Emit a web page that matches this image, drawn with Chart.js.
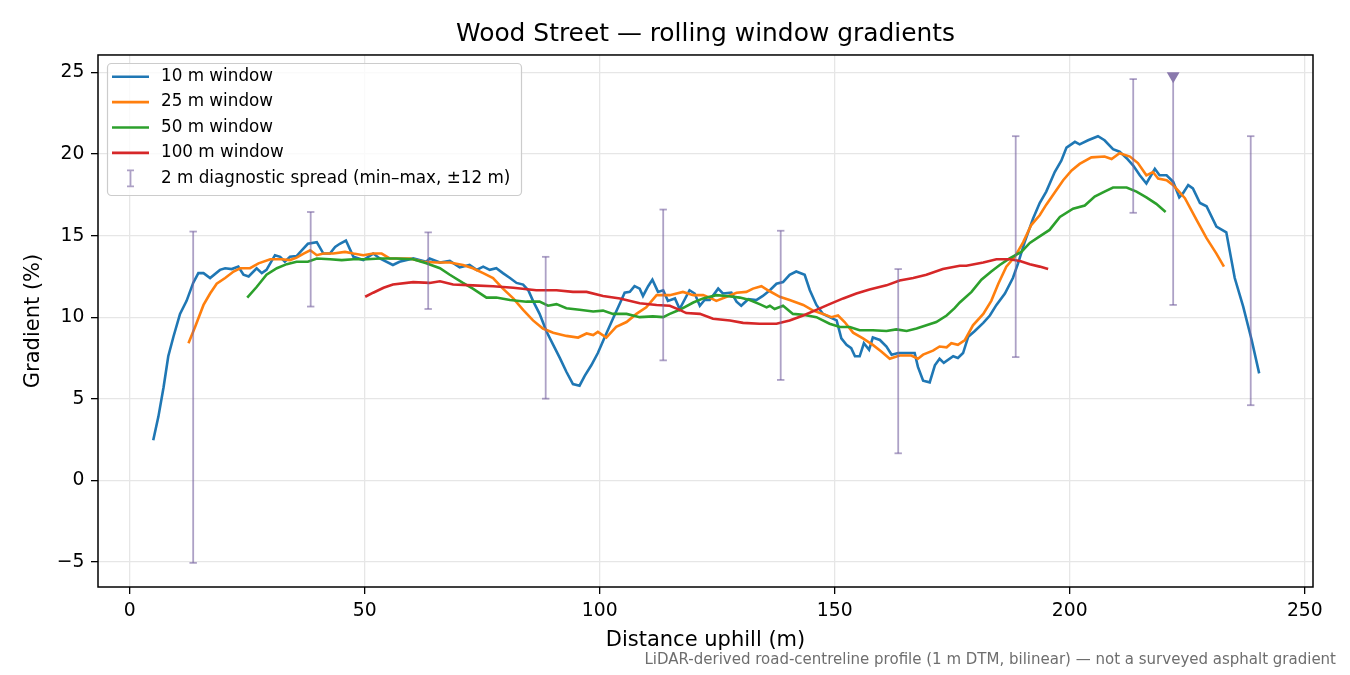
<!DOCTYPE html>
<html>
<head>
<meta charset="utf-8">
<title>Wood Street — rolling window gradients</title>
<script src="https://cdn.jsdelivr.net/npm/chart.js@4.4.1/dist/chart.umd.min.js"></script>
<style>
  html, body { margin: 0; padding: 0; background: #fff; }
  #wrap { width: 1350px; height: 675px; }
</style>
</head>
<body>
<div id="wrap"><canvas id="chart-gradients" width="1350" height="675"></canvas></div>
<script>
// values (distance m, gradient %)

const win10X = [5.0, 6.1, 7.2, 8.2, 9.3, 10.7, 12.1, 13.5, 14.6, 15.7, 17.1, 19.2, 20.3, 21.7, 23.1, 24.2, 25.3, 27.0, 28.1, 29.1,
  30.9, 32.0, 33.0, 34.1, 35.5, 36.6, 37.9, 39.8, 41.2, 42.6, 43.7, 44.7, 46.0, 47.6, 49.7, 51.8, 53.2, 56.0, 57.4, 60.3,
  63.1, 63.8, 66.0, 68.1, 70.2, 72.3, 73.8, 75.2, 76.6, 78.0, 79.4, 80.9, 82.3, 83.7, 84.8, 85.8, 87.2, 88.7, 90.1, 91.5,
  92.9, 94.3, 95.7, 96.8, 98.2, 99.6, 101.1, 102.8, 104.3, 105.3, 106.4, 107.4, 108.5, 109.2, 110.3, 111.2, 112.4, 113.5, 114.5, 116.0,
  117.0, 119.1, 120.2, 121.3, 122.3, 123.4, 125.2, 126.2, 128.0, 129.1, 130.1, 131.6, 133.3, 134.7, 136.2, 137.6, 139.0, 140.4, 141.8, 143.6,
  144.7, 146.1, 147.5, 148.9, 150.4, 151.4, 152.5, 153.5, 154.3, 155.3, 156.2, 157.3, 158.1, 159.6, 161.0, 162.1, 163.5, 165.3, 167.0, 167.7,
  168.8, 170.2, 171.3, 172.3, 173.2, 175.2, 176.2, 177.3, 178.4, 179.8, 181.6, 183.0, 184.4, 186.2, 187.9, 189.0, 190.4, 192.2, 193.6, 195.0,
  196.8, 198.2, 199.3, 201.1, 202.1, 203.9, 206.0, 207.4, 209.2, 210.6, 212.1, 213.5, 214.9, 216.3, 218.1, 219.1, 220.6, 222.0, 223.3, 224.1,
  225.2, 226.2, 227.7, 229.1, 231.2, 233.3, 235.1, 236.9, 238.7, 240.3];
const win10Y = [2.45, 3.9, 5.7, 7.6, 8.8, 10.2, 11.0, 12.1, 12.7, 12.7, 12.4, 12.9, 13.0, 12.95, 13.1, 12.6, 12.5, 13.0, 12.7, 12.9,
  13.8, 13.7, 13.4, 13.7, 13.75, 14.1, 14.5, 14.6, 13.9, 13.9, 14.3, 14.5, 14.7, 13.7, 13.5, 13.9, 13.6, 13.2, 13.4, 13.6,
  13.4, 13.6, 13.35, 13.45, 13.05, 13.2, 12.9, 13.1, 12.9, 13.0, 12.7, 12.4, 12.1, 12.0, 11.65, 11.0, 10.2, 9.1, 8.3, 7.5,
  6.65, 5.9, 5.8, 6.4, 7.05, 7.8, 8.8, 9.9, 10.85, 11.5, 11.55, 11.9, 11.75, 11.3, 11.9, 12.3, 11.55, 11.65, 11.0, 11.15,
  10.5, 11.65, 11.45, 10.7, 11.05, 11.05, 11.75, 11.45, 11.5, 10.95, 10.7, 11.1, 11.05, 11.3, 11.65, 12.05, 12.15, 12.6, 12.8, 12.6,
  11.65, 10.75, 10.2, 10.0, 9.8, 8.7, 8.3, 8.1, 7.6, 7.6, 8.4, 8.0, 8.75, 8.6, 8.2, 7.7, 7.8, 7.8, 7.8, 6.95,
  6.1, 6.0, 7.05, 7.45, 7.2, 7.6, 7.5, 7.8, 8.8, 9.15, 9.65, 10.1, 10.75, 11.45, 12.4, 13.3, 14.6, 16.05, 17.0, 17.7,
  18.9, 19.6, 20.4, 20.75, 20.6, 20.85, 21.1, 20.85, 20.3, 20.15, 19.75, 19.3, 18.7, 18.2, 19.1, 18.7, 18.7, 18.3, 17.35, 17.6,
  18.1, 17.9, 17.0, 16.8, 15.55, 15.2, 12.4, 10.65, 8.6, 6.55];

const win25X = [12.5, 13.9, 15.7, 17.1, 18.5, 20.3, 22.1, 23.5, 25.6, 27.4, 29.9, 32.3, 34.1, 35.5, 37.0, 38.4, 39.8, 41.2, 43.3, 45.8,
  47.6, 49.7, 51.8, 53.6, 55.3, 59.6, 62.4, 65.3, 68.1, 70.9, 73.0, 75.2, 77.3, 79.4, 81.6, 83.7, 85.8, 87.9, 90.1, 92.9,
  95.4, 97.2, 98.6, 99.6, 101.4, 103.5, 105.7, 107.8, 109.9, 112.1, 114.9, 117.7, 119.9, 122.0, 123.4, 124.8, 127.0, 129.1, 131.2, 132.6,
  134.4, 135.8, 138.3, 140.4, 143.3, 145.4, 147.5, 149.3, 150.7, 152.1, 153.9, 156.0, 158.1, 159.9, 161.7, 163.8, 166.3, 167.7, 168.8, 170.9,
  172.3, 173.8, 174.8, 176.2, 177.7, 179.4, 181.6, 183.3, 184.8, 186.5, 188.3, 190.1, 191.8, 193.6, 195.0, 196.8, 198.6, 200.4, 202.1, 204.6,
  207.4, 208.9, 210.6, 212.8, 214.5, 216.3, 217.7, 218.8, 220.6, 222.0, 224.5, 227.0, 229.1, 231.2, 232.8];
const win25Y = [8.4, 9.4, 10.75, 11.45, 12.05, 12.4, 12.8, 13.0, 13.0, 13.3, 13.55, 13.55, 13.5, 13.65, 13.9, 14.1, 13.8, 13.9, 13.9, 14.0,
  13.9, 13.8, 13.9, 13.9, 13.6, 13.6, 13.4, 13.35, 13.35, 13.2, 13.0, 12.7, 12.4, 11.75, 11.15, 10.45, 9.8, 9.3, 9.05, 8.85,
  8.75, 9.0, 8.9, 9.1, 8.75, 9.4, 9.7, 10.2, 10.6, 11.35, 11.35, 11.55, 11.35, 11.35, 11.2, 11.0, 11.25, 11.5, 11.55, 11.75,
  11.9, 11.65, 11.25, 11.05, 10.75, 10.4, 10.2, 10.0, 10.1, 9.7, 9.05, 8.7, 8.3, 7.9, 7.45, 7.65, 7.65, 7.45, 7.7, 7.95,
  8.2, 8.15, 8.4, 8.3, 8.6, 9.5, 10.2, 11.0, 12.05, 13.1, 13.7, 14.6, 15.65, 16.25, 16.9, 17.65, 18.4, 19.0, 19.4, 19.8,
  19.85, 19.7, 20.05, 19.85, 19.45, 18.7, 18.9, 18.5, 18.4, 18.1, 17.3, 15.95, 14.85, 13.9, 13.1];

const win50X = [25.0, 27.0, 29.1, 31.3, 33.4, 35.5, 37.9, 39.8, 42.6, 45.1, 47.6, 50.4, 53.3, 56.7, 60.3, 63.1, 66.0, 68.1, 70.9, 73.0,
  75.9, 78.0, 80.9, 84.4, 87.2, 89.0, 90.8, 92.9, 95.7, 98.6, 100.7, 102.8, 105.7, 108.5, 111.3, 113.5, 114.9, 117.0, 119.9, 122.0,
  124.8, 127.0, 129.8, 131.9, 134.0, 135.5, 136.2, 137.2, 139.0, 141.1, 143.3, 146.1, 148.9, 151.1, 153.2, 155.3, 158.1, 161.0, 163.1, 165.3,
  167.4, 169.5, 171.6, 173.8, 175.5, 176.6, 179.1, 181.2, 183.3, 185.1, 187.2, 189.7, 191.5, 193.6, 195.7, 197.9, 200.7, 203.2, 205.3, 207.4,
  209.2, 212.1, 214.2, 216.3, 218.4, 220.4];
const win50Y = [11.2, 11.85, 12.6, 13.0, 13.25, 13.4, 13.4, 13.6, 13.55, 13.5, 13.55, 13.55, 13.6, 13.6, 13.55, 13.3, 13.0, 12.6, 12.1, 11.75,
  11.2, 11.2, 11.05, 10.95, 10.95, 10.7, 10.8, 10.55, 10.45, 10.35, 10.4, 10.2, 10.2, 10.0, 10.05, 10.0, 10.2, 10.45, 10.9, 11.15,
  11.35, 11.3, 11.2, 11.05, 10.8, 10.6, 10.7, 10.5, 10.7, 10.2, 10.15, 10.0, 9.6, 9.4, 9.4, 9.2, 9.2, 9.15, 9.25, 9.15,
  9.3, 9.5, 9.7, 10.1, 10.55, 10.9, 11.55, 12.3, 12.8, 13.2, 13.6, 14.0, 14.55, 14.95, 15.35, 16.15, 16.65, 16.85, 17.4, 17.7,
  17.95, 17.95, 17.7, 17.35, 16.95, 16.45];

const win100X = [50.1, 51.8, 54.0, 56.0, 60.3, 63.8, 66.0, 68.8, 73.0, 77.3, 81.6, 86.5, 90.8, 94.3, 97.2, 100.7, 104.3, 108.5, 112.1, 114.9,
  117.0, 118.4, 121.3, 124.1, 127.7, 130.5, 134.0, 137.6, 140.4, 143.3, 146.1, 148.9, 151.8, 154.6, 157.4, 161.0, 163.8, 166.7, 169.5, 173.0,
  176.6, 178.0, 181.6, 184.4, 187.2, 189.4, 191.5, 193.6, 195.4];
const win100Y = [11.25, 11.5, 11.8, 12.0, 12.15, 12.1, 12.2, 12.0, 11.95, 11.9, 11.8, 11.65, 11.65, 11.55, 11.55, 11.3, 11.15, 10.85, 10.75, 10.7,
  10.45, 10.25, 10.2, 9.9, 9.8, 9.65, 9.6, 9.6, 9.8, 10.1, 10.45, 10.8, 11.15, 11.45, 11.7, 11.95, 12.25, 12.4, 12.6, 12.95,
  13.15, 13.15, 13.35, 13.55, 13.55, 13.45, 13.25, 13.1, 12.95];

// 2 m diagnostic spread, min-max within +-12 m
const spreadX = [13.5, 38.5, 63.5, 88.5, 113.5, 138.5, 163.5, 188.5, 213.5, 222.0, 238.5];
const spreadLo = [-5.07, 10.65, 10.5, 5.0, 7.35, 6.15, 1.65, 7.55, 16.4, 10.75, 4.6];
const spreadHi = [15.25, 16.45, 15.2, 13.7, 16.6, 15.3, 12.95, 21.1, 24.6, 24.8, 21.1];

// spread max beyond the axis top
const offscaleX = [222.0];
const offscaleY = [24.8];

const ticksX = [0, 50, 100, 150, 200, 250];
const ticksY = [-5, 0, 5, 10, 15, 20, 25];

const FUENTE = "'DejaVu Sans', 'Liberation Sans', sans-serif";
const COLOR_SPREAD = 'rgba(118, 98, 160, 0.6)';

function puntos(xs, ys) {
  return xs.map((x, i) => ({ x, y: ys[i] }));
}

function puntosSpread() {
  const out = [];
  spreadX.forEach((x, i) => {
    out.push({ x, y: spreadLo[i], cap: true });
    out.push({ x, y: spreadHi[i], cap: !offscaleX.includes(x) });
    out.push({ x, y: null });
  });
  return out;
}

function lineaVentana(label, xs, ys, color, order) {
  return {
    label,
    data: puntos(xs, ys),
    showLine: true,
    borderColor: color,
    backgroundColor: color,
    borderWidth: 2.6,
    pointRadius: 0,
    tension: 0,
    order
  };
}

const datasets = [
  lineaVentana('10 m window', win10X, win10Y, '#1f77b4', 5),
  lineaVentana('25 m window', win25X, win25Y, '#ff7f0e', 4),
  lineaVentana('50 m window', win50X, win50Y, '#2ca02c', 3),
  lineaVentana('100 m window', win100X, win100Y, '#d62728', 2),
  {
    label: '2 m diagnostic spread (min\u2013max, \u00b112 m)',
    data: puntosSpread(),
    showLine: true,
    spanGaps: false,
    borderColor: COLOR_SPREAD,
    borderWidth: 1.8,
    pointStyle: 'line',
    pointRadius: c => (c.raw && c.raw.cap) ? 3.7 : 0,
    pointBorderColor: COLOR_SPREAD,
    pointBorderWidth: 1.8,
    order: 1
  },
  {
    label: 'offscale',
    data: puntos(offscaleX, offscaleY),
    showLine: false,
    pointStyle: 'triangle',
    rotation: 180,
    pointRadius: 7.4,
    pointBackgroundColor: '#8a79ad',
    pointBorderWidth: 0,
    order: 0
  }
];

// matplotlib-style frame round the plot area
const marcoPlugin = {
  id: 'marco',
  afterDatasetsDraw(chart) {
    const { ctx, chartArea: a } = chart;
    ctx.save();
    ctx.strokeStyle = '#000';
    ctx.lineWidth = 1.5;
    ctx.strokeRect(a.left, a.top, a.right - a.left, a.bottom - a.top);
    ctx.restore();
  }
};

const leyendaPlugin = {
  id: 'leyenda',
  afterDraw(chart) {
    const ctx = chart.ctx;
    const items = chart.data.datasets.slice(0, 5);
    const x0 = 107, y0 = 63, w = 414, h = 132;
    ctx.save();
    ctx.beginPath();
    ctx.roundRect(x0 + 0.5, y0 + 0.5, w, h, 4);
    ctx.fillStyle = 'rgba(255,255,255,0.8)';
    ctx.fill();
    ctx.strokeStyle = '#cccccc';
    ctx.lineWidth = 1.2;
    ctx.stroke();

    ctx.font = '16.8px ' + FUENTE;
    ctx.textBaseline = 'middle';
    ctx.textAlign = 'left';
    items.forEach((ds, i) => {
      const y = 76.7 + i * 25.4;
      if (i < 4) {
        ctx.strokeStyle = ds.borderColor;
        ctx.lineWidth = 2.6;
        ctx.beginPath();
        ctx.moveTo(112, y);
        ctx.lineTo(149, y);
        ctx.stroke();
      } else {
        ctx.strokeStyle = COLOR_SPREAD;
        ctx.lineWidth = 1.8;
        ctx.beginPath();
        ctx.moveTo(130.5, y - 8);
        ctx.lineTo(130.5, y + 8);
        ctx.moveTo(127, y - 8);
        ctx.lineTo(134, y - 8);
        ctx.moveTo(127, y + 8);
        ctx.lineTo(134, y + 8);
        ctx.stroke();
      }
      ctx.fillStyle = '#000';
      ctx.fillText(ds.label, 161, y);
    });

    ctx.font = '15px ' + FUENTE;
    ctx.fillStyle = '#6e6e6e';
    ctx.textAlign = 'right';
    ctx.fillText('LiDAR-derived road-centreline profile (1 m DTM, bilinear) \u2014 not a surveyed asphalt gradient', 1336, 660);
    ctx.restore();
  }
};

new Chart(document.getElementById('chart-gradients'), {
  type: 'scatter',
  data: { datasets },
  options: {
    responsive: false,
    animation: false,
    events: [],
    layout: { padding: { left: 0, right: 37, top: 0, bottom: 0 } },
    plugins: {
      legend: { display: false },
      tooltip: { enabled: false },
      title: {
        display: true,
        fullSize: false,
        text: 'Wood Street \u2014 rolling window gradients',
        color: '#000',
        font: { family: FUENTE, size: 24.9, weight: 'normal', lineHeight: 1.2 },
        padding: { top: 20, bottom: 5.1 }
      }
    },
    scales: {
      x: {
        type: 'linear',
        min: -6.75,
        max: 251.75,
        afterBuildTicks: s => { s.ticks = ticksX.map(v => ({ value: v })); },
        afterFit: s => { s.height = 88; },
        grid: { color: '#e6e6e6', lineWidth: 1.3, tickLength: 7, tickColor: '#000', tickWidth: 1.3 },
        border: { display: false },
        ticks: {
          color: '#000',
          padding: 6,
          maxRotation: 0,
          font: { family: FUENTE, size: 18.75 },
          callback: v => String(v).replace('-', '\u2212')
        },
        title: {
          display: true,
          text: 'Distance uphill (m)',
          color: '#000',
          font: { family: FUENTE, size: 21 },
          padding: { top: 0, bottom: 22 }
        }
      },
      y: {
        type: 'linear',
        min: -6.55,
        max: 26.08,
        afterBuildTicks: s => { s.ticks = ticksY.map(v => ({ value: v })); },
        afterFit: s => { s.width = 98; },
        grid: { color: '#e6e6e6', lineWidth: 1.3, tickLength: 7, tickColor: '#000', tickWidth: 1.3 },
        border: { display: false },
        ticks: {
          color: '#000',
          padding: 6.6,
          font: { family: FUENTE, size: 18.75 },
          callback: v => String(v).replace('-', '\u2212')
        },
        title: {
          display: true,
          text: 'Gradient (%)',
          color: '#000',
          font: { family: FUENTE, size: 21 },
          padding: { top: 21.4, bottom: 0 }
        }
      }
    }
  },
  plugins: [marcoPlugin, leyendaPlugin]
});
</script>
</body>
</html>
